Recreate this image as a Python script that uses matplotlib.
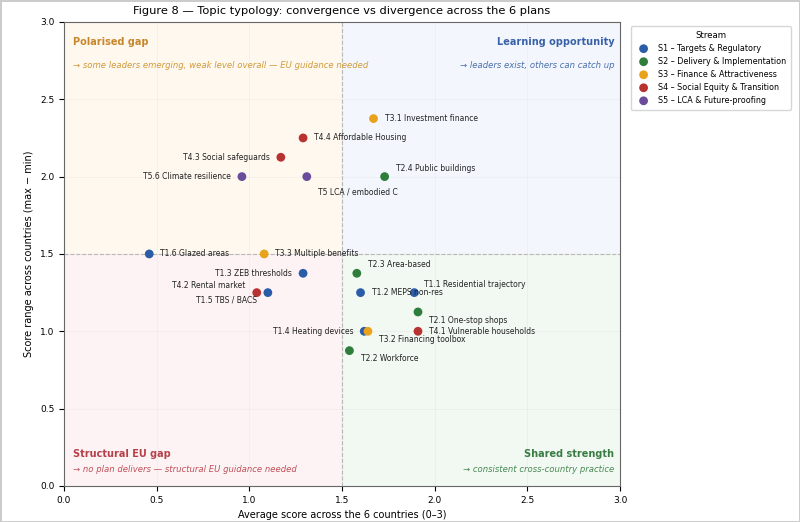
import matplotlib
matplotlib.use("Agg")
import matplotlib.pyplot as plt
from matplotlib.patches import Rectangle

# Topic data: (label, stream, average score, score range)
topics = ["T1.1 Residential trajectory", "T1.2 MEPS non-res", "T1.3 ZEB thresholds",
          "T1.4 Heating devices", "T1.5 TBS / BACS", "T1.6 Glazed areas",
          "T2.1 One-stop shops", "T2.2 Workforce", "T2.3 Area-based", "T2.4 Public buildings",
          "T3.1 Investment finance", "T3.2 Financing toolbox", "T3.3 Multiple benefits",
          "T4.1 Vulnerable households", "T4.2 Rental market", "T4.3 Social safeguards",
          "T4.4 Affordable Housing", "T5 LCA / embodied C", "T5.6 Climate resilience"]
stream = ["S1", "S1", "S1", "S1", "S1", "S1",
          "S2", "S2", "S2", "S2",
          "S3", "S3", "S3",
          "S4", "S4", "S4", "S4",
          "S5", "S5"]
avg = [1.89, 1.60, 1.29, 1.62, 1.10, 0.46,
       1.91, 1.54, 1.58, 1.73,
       1.67, 1.64, 1.08,
       1.91, 1.04, 1.17, 1.29,
       1.31, 0.96]
rng = [1.25, 1.25, 1.375, 1.0, 1.25, 1.5,
       1.125, 0.875, 1.375, 2.0,
       2.375, 1.0, 1.5,
       1.0, 1.25, 2.125, 2.25,
       2.0, 2.0]
# label offsets (points) and alignment
offsets = [(7, 6, "left"), (8, 0, "left"), (-8, 0, "right"),
           (-8, 0, "right"), (-8, -5, "right"), (8, 0, "left"),
           (8, -6.5, "left"), (8, -5.5, "left"), (8, 6, "left"), (8, 6, "left"),
           (8, 0, "left"), (8, -6, "left"), (8, 0, "left"),
           (8, 0, "left"), (-8, 5, "right"), (-8, 0, "right"),
           (8, 0, "left"), (8, -11, "left"), (-8, 0, "right")]

stream_names = ["S1 – Targets & Regulatory", "S2 – Delivery & Implementation",
                "S3 – Finance & Attractiveness", "S4 – Social Equity & Transition",
                "S5 – LCA & Future-proofing"]
stream_ids = ["S1", "S2", "S3", "S4", "S5"]
stream_colors = ["#2b5ca8", "#2e7d3a", "#e9a21c", "#b83232", "#6a4c9c"]

fig = plt.figure(figsize=(8, 5.22), dpi=100)
fig.patch.set_edgecolor("#cccccc")
fig.patch.set_linewidth(2)
ax = fig.add_axes([0.08, 0.069, 0.695, 0.889])

# quadrant backgrounds
ax.add_patch(Rectangle((0, 1.5), 1.5, 1.5, color="#fff8ef", zorder=0))
ax.add_patch(Rectangle((1.5, 1.5), 1.5, 1.5, color="#f3f7fd", zorder=0))
ax.add_patch(Rectangle((0, 0), 1.5, 1.5, color="#fdf3f4", zorder=0))
ax.add_patch(Rectangle((1.5, 0), 1.5, 1.5, color="#f2f8f2", zorder=0))
ax.axvline(1.5, color="#aaaaaa", ls="--", lw=0.8, zorder=1)
ax.axhline(1.5, color="#aaaaaa", ls="--", lw=0.8, zorder=1)
ax.grid(True, color="#dddddd", lw=0.5, alpha=0.4, zorder=0.5)

for sid, name, col in zip(stream_ids, stream_names, stream_colors):
    xs = [a for a, s in zip(avg, stream) if s == sid]
    ys = [r for r, s in zip(rng, stream) if s == sid]
    ax.scatter(xs, ys, s=40, color=col, label=name, zorder=3, edgecolor="none")

for t, x, y, (dx, dy, ha) in zip(topics, avg, rng, offsets):
    ax.annotate(t, (x, y), xytext=(dx, dy), textcoords="offset points",
                ha=ha, va="center", fontsize=5.5, color="#222222", zorder=4)

# quadrant captions
ax.text(0.05, 2.85, "Polarised gap", fontsize=7, fontweight="bold", color="#c8862a")
ax.text(0.05, 2.70, "→ some leaders emerging, weak level overall — EU guidance needed",
        fontsize=6.1, style="italic", color="#d09a3a")
ax.text(2.97, 2.85, "Learning opportunity", fontsize=7, fontweight="bold",
        color="#3a62a8", ha="right")
ax.text(2.97, 2.70, "→ leaders exist, others can catch up", fontsize=6.1, style="italic",
        color="#4a6fae", ha="right")
ax.text(0.05, 0.19, "Structural EU gap", fontsize=7, fontweight="bold", color="#b5404a")
ax.text(0.05, 0.09, "→ no plan delivers — structural EU guidance needed", fontsize=6.1,
        style="italic", color="#c0505a")
ax.text(2.97, 0.19, "Shared strength", fontsize=7, fontweight="bold",
        color="#3a7d44", ha="right")
ax.text(2.97, 0.09, "→ consistent cross-country practice", fontsize=6.1, style="italic",
        color="#4a8a55", ha="right")

ax.set_xlim(0, 3)
ax.set_ylim(0, 3)
ax.tick_params(labelsize=6.5)
ax.set_xlabel("Average score across the 6 countries (0–3)", fontsize=7)
ax.set_ylabel("Score range across countries (max − min)", fontsize=7)
ax.set_title("Figure 8 — Topic typology: convergence vs divergence across the 6 plans",
             fontsize=8.2)
for sp in ax.spines.values():
    sp.set_color("#666666")

ax.legend(title="Stream", loc="upper left", bbox_to_anchor=(1.012, 1.0),
          fontsize=5.8, title_fontsize=6.2, frameon=True, handletextpad=0.8,
          borderpad=0.6)

fig.savefig("out.png", dpi=100)
